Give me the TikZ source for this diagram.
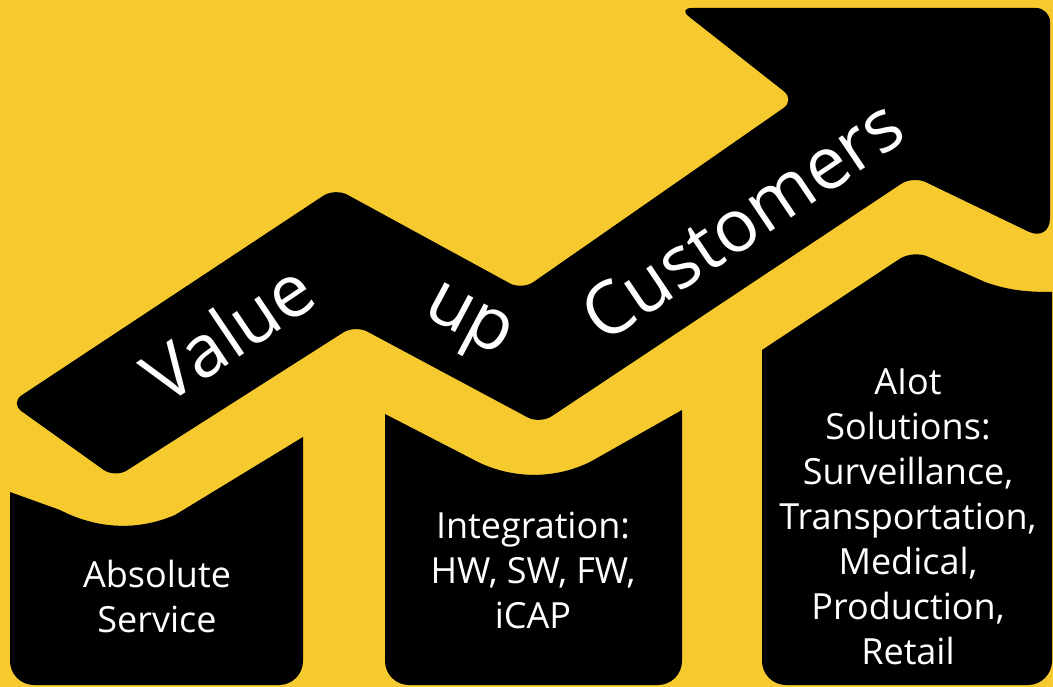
\documentclass[tikz,border=0pt]{standalone}
\usepackage{fontspec}
\setmainfont{Open Sans}
\definecolor{bgyellow}{RGB}{246,202,46}
\begin{document}
\begin{tikzpicture}[x=1pt,y=-1pt,
  blackshape/.style={fill=black},
  bigword/.style={text=white,font=\fontsize{73}{86}\selectfont,inner sep=0pt},
  bartext/.style={text=white,font=\fontsize{36}{45}\selectfont,align=center,inner sep=0pt}]
\fill[bgyellow] (0,0) rectangle (1053,687);
\useasboundingbox (0,0) rectangle (1053,687);
% zig-zag arrow
\fill[blackshape,rounded corners=14pt] (10,403) -- (335,188) -- (522,290) -- (795,100) -- (678,8) -- (1050,8) [rounded corners=24pt] -- (1050,242) [rounded corners=14pt] -- (913,176) -- (540,424) -- (355,325) -- (115,478) -- cycle;
% bar 1
\fill[blackshape] (10,492) -- (60,510) .. controls (95,528) and (135,532) .. (175,515) -- (303,437)
  [rounded corners=24pt] -- (303,685) -- (10,685) [sharp corners] -- cycle;
% bar 2
\fill[blackshape] (385,414) -- (480,463) .. controls (515,479) and (555,479) .. (590,462) -- (682,410)
  [rounded corners=24pt] -- (682,685) -- (385,685) [sharp corners] -- cycle;
% bar 3
\fill[blackshape] (762,350) [rounded corners=16pt] -- (913,250) [sharp corners] -- (985,282) .. controls (1010,291) and (1030,292) .. (1052,292)
  [rounded corners=24pt] -- (1052,685) -- (762,685) [sharp corners] -- cycle;
% words
\node[bigword,rotate=34] (value) at (228,332) {Value};
\node[bigword,rotate=-28] (up) at (466,326) {up};
\node[bigword,rotate=34] (customers) at (742,220) {Customers};
% bar texts
\node[bartext] (service) at (157,596) {Absolute\\Service};
\node[bartext] (integration) at (533,570) {Integration:\\HW, SW, FW,\\iCAP};
\node[bartext] (aiot) at (908,517) {AIot\\Solutions:\\Surveillance,\\Transportation,\\Medical,\\Production,\\Retail};
\end{tikzpicture}
\end{document}
